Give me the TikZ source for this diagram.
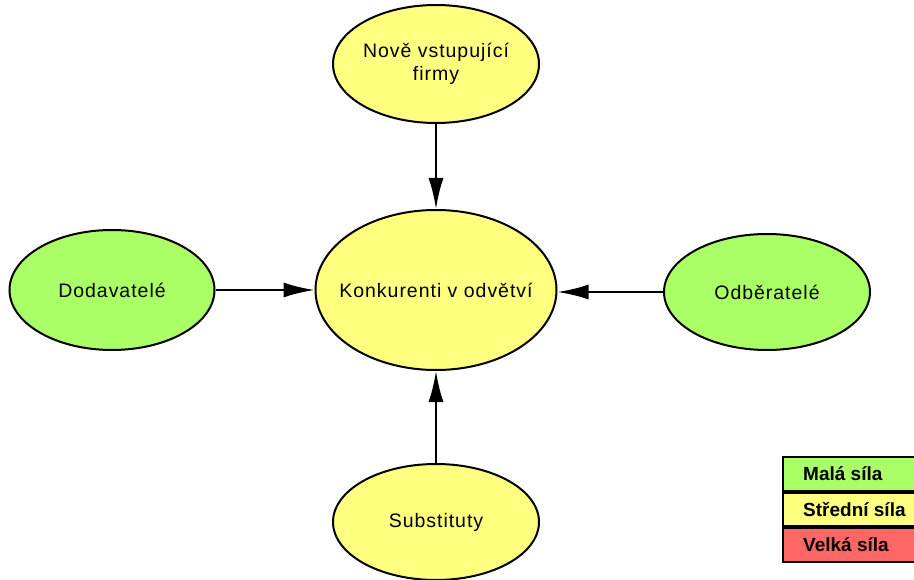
\documentclass[tikz,border=0pt]{standalone}
\usepackage{fontspec}
\setmainfont{Liberation Sans}
\usepackage{tikz}
\usetikzlibrary{shapes,arrows.meta,calc}

\definecolor{silamala}{HTML}{AAFF66}
\definecolor{silastredni}{HTML}{FFFF80}
\definecolor{silavelka}{HTML}{FF6666}

\tikzset{
    sila/.style={ellipse,draw=black,line width=2pt,inner sep=0pt},
    napis/.style={align=center,inner sep=0pt,
        font=\fontsize{19.5}{23}\selectfont\addfontfeatures{LetterSpace=5}},
    sipka/.style={-{Latex[length=31pt,width=15pt]},line width=2.2pt},
    legenda/.style={draw=black,line width=2pt,minimum width=140pt,minimum height=33.5pt,anchor=north west},
    legnapis/.style={anchor=west,xshift=21pt,inner sep=0pt,font=\fontsize{19}{22}\selectfont\bfseries}
}

\begin{document}
\begin{tikzpicture}[x=1pt,y=-1pt]
\useasboundingbox (0,0) rectangle (914,580);

\node[sila,fill=silastredni,minimum width=241pt,minimum height=160pt,
    label={[napis]center:Konkurenti v odvětví}] (konkurenti) at (436,290) {};

\node[sila,fill=silastredni,minimum width=206pt,minimum height=118pt,
    label={[napis]center:Nově vstupující\\firmy}] (nove) at (436,64) {};

\node[sila,fill=silamala,minimum width=205pt,minimum height=120pt,
    label={[napis]center:Dodavatelé}] (dodavatele) at (112,290) {};

\node[sila,fill=silamala,minimum width=206pt,minimum height=116pt,
    label={[napis]center:Odběratelé}] (odberatele) at (767,292) {};

\node[sila,fill=silastredni,minimum width=206pt,minimum height=116pt,
    label={[napis]center:Substituty}] (substituty) at (436,522) {};

\draw[sipka] (nove) -- (konkurenti);
\draw[sipka] (dodavatele) -- (konkurenti);
\draw[sipka] (odberatele) -- (konkurenti.east |- odberatele);
\draw[sipka] (substituty) -- (konkurenti);

% legenda
\node[legenda,fill=silamala,label={[legnapis]west:Malá síla}] (mala) at (782,456) {};
\node[legenda,fill=silastredni,anchor=north,label={[legnapis]west:Střední síla}] (stredni) at (mala.south) {};
\node[legenda,fill=silavelka,anchor=north,label={[legnapis]west:Velká síla}] (velka) at (stredni.south) {};

\end{tikzpicture}
\end{document}
